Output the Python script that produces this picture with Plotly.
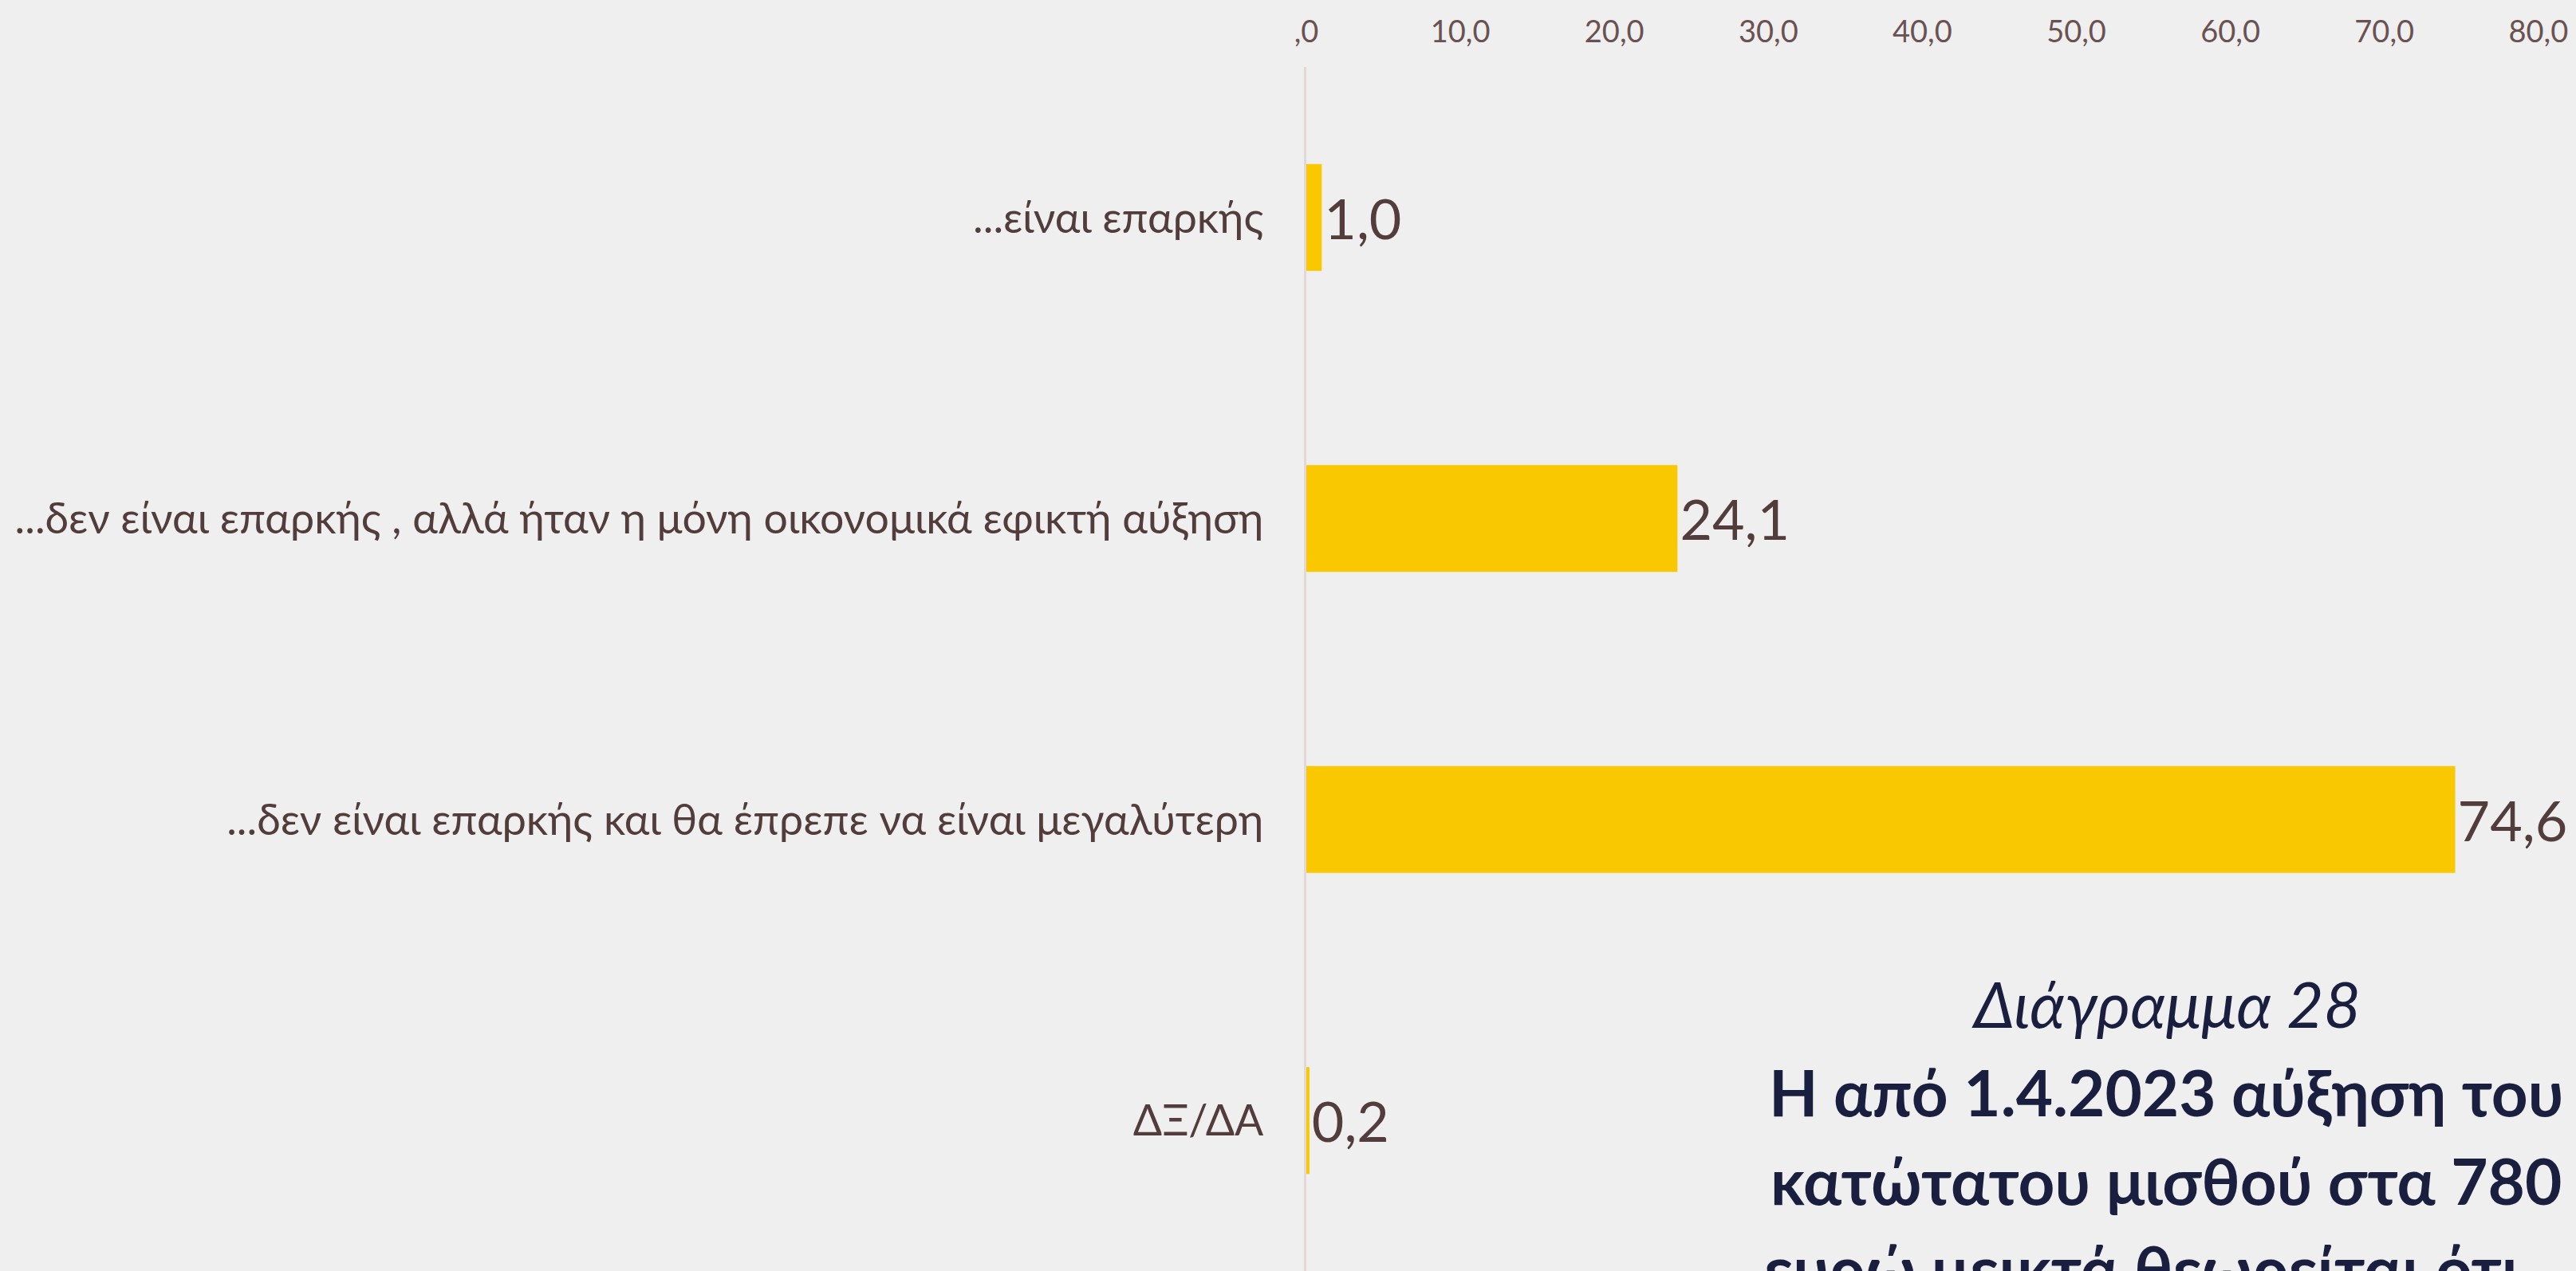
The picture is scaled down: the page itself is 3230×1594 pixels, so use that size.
import plotly.graph_objects as go

categories = [
    "...είναι επαρκής",
    "...δεν είναι επαρκής , αλλά ήταν η μόνη οικονομικά εφικτή αύξηση",
    "...δεν είναι επαρκής και θα έπρεπε να είναι μεγαλύτερη",
    "ΔΞ/ΔΑ",
]
values = [1.0, 24.1, 74.6, 0.2]
tick_vals = [0, 10, 20, 30, 40, 50, 60, 70, 80]
tick_text = [",0", "10,0", "20,0", "30,0", "40,0", "50,0", "60,0", "70,0", "80,0"]
title_lines = [
    ("Διάγραμμα 28", False),
    ("Η από 1.4.2023 αύξηση του", True),
    ("κατώτατου μισθού στα 780", True),
    ("ευρώ μεικτά θεωρείται ότι…", True),
]

W, H = 3230, 1594
L, T = 1638, 84
BG = "#efefef"
BAR = "#f9c800"
LABEL = "#523c3c"
TICK = "#6b5252"
NAVY = "#1a1f40"
FONT = "Lato, 'Open Sans', 'Noto Sans', sans-serif"

labels = [f"{v:.1f}".replace(".", ",") for v in values]

fig = go.Figure(
    go.Bar(
        x=values,
        y=categories,
        orientation="h",
        marker=dict(color=BAR, line=dict(width=0)),
        text=labels,
        textposition="outside",
        textfont=dict(family=FONT, size=70, color=LABEL),
        cliponaxis=False,
        constraintext="none",
        hoverinfo="skip",
    )
)

xmax = (W - L) / 193.1 * 10

fig.update_layout(
    width=W,
    height=H,
    margin=dict(l=L, r=0, t=T, b=0, pad=0),
    paper_bgcolor=BG,
    plot_bgcolor=BG,
    bargap=0.645,
    showlegend=False,
    font=dict(family=FONT, color=LABEL),
    xaxis=dict(
        side="top",
        range=[0, xmax],
        tickmode="array",
        tickvals=tick_vals,
        ticktext=tick_text,
        tickfont=dict(family=FONT, size=38, color=TICK),
        showgrid=False,
        zeroline=False,
        showline=False,
        ticks="",
        ticklabelstandoff=22,
    ),
    yaxis=dict(
        autorange="reversed",
        showgrid=False,
        zeroline=False,
        showline=True,
        linecolor="#e2d8d8",
        linewidth=3,
        ticks="",
        tickfont=dict(family=FONT, size=53.6, color=LABEL),
        ticklabelstandoff=40,
    ),
)

plot_h = H - T
centers = [1258, 1369, 1480, 1590]
cx = (2716 - L) / (W - L)
for (txt, bold), py in zip(title_lines, centers):
    fig.add_annotation(
        x=cx,
        y=(H - py) / plot_h,
        xref="paper",
        yref="paper",
        text=f"<b>{txt}</b>" if bold else f"<i>{txt}</i>",
        showarrow=False,
        xanchor="center",
        yanchor="middle",
        font=dict(family=FONT, size=80, color=NAVY),
    )

fig.write_html(
    "out.html",
    config={"displayModeBar": False},
    post_script="document.body.style.margin='0';document.body.style.overflow='hidden';",
)
